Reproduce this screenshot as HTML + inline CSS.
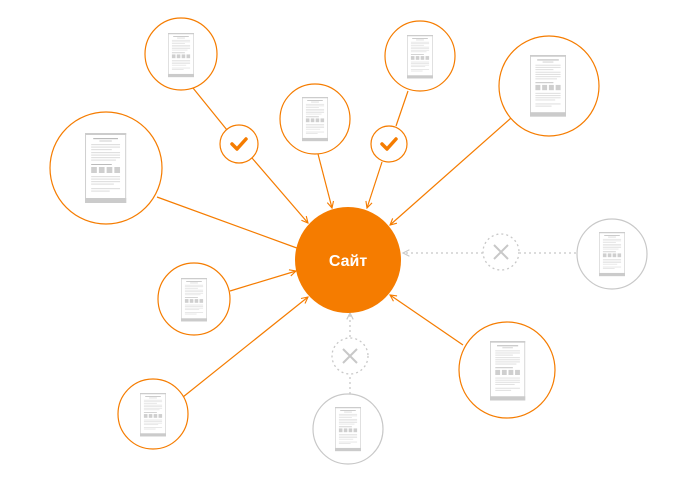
<!DOCTYPE html>
<html><head><meta charset="utf-8"><style>html,body{margin:0;padding:0;background:#fff}svg{display:block}</style></head>
<body>
<svg width="697" height="491" viewBox="0 0 697 491" xmlns="http://www.w3.org/2000/svg">
<defs>
<g id="doc">
<rect x="0.5" y="0.5" width="39" height="69" fill="#fff" stroke="#d0d0d0" stroke-width="1"/>
<rect x="0" y="0" width="40" height="2" fill="#ccc"/>
<rect x="8" y="5" width="24" height="1.2" fill="#bbb"/>
<rect x="14" y="7.5" width="12" height="1" fill="#ccc"/>
<g fill="#e0e0e0">
<rect x="6" y="11" width="28" height="1.2"/><rect x="6" y="13.5" width="28" height="1.2"/><rect x="6" y="16" width="20" height="1.2"/>
<rect x="6" y="19" width="28" height="1.2"/><rect x="6" y="21.5" width="28" height="1.2"/><rect x="6" y="24" width="28" height="1.2"/><rect x="6" y="26.5" width="24" height="1.2"/>
<rect x="6" y="43" width="28" height="1.2"/><rect x="6" y="45.5" width="28" height="1.2"/><rect x="6" y="48" width="28" height="1.2"/><rect x="6" y="50.5" width="22" height="1.2"/>
<rect x="6" y="55" width="28" height="1.2"/><rect x="6" y="57.5" width="18" height="1.2"/>
</g>
<rect x="6" y="31" width="20" height="1" fill="#bbb"/>
<rect x="6" y="34" width="5.5" height="6" fill="#cfcfcf"/>
<rect x="13.5" y="34" width="5.5" height="6" fill="#cfcfcf"/>
<rect x="21" y="34" width="5.5" height="6" fill="#cfcfcf"/>
<rect x="28.5" y="34" width="5.5" height="6" fill="#cfcfcf"/>
<rect x="0" y="65" width="40" height="5" fill="#cbcbcb"/>
</g>
<marker id="ar" viewBox="0 0 10 10" refX="9" refY="5" markerWidth="8" markerHeight="8" orient="auto" markerUnits="userSpaceOnUse">
<path d="M1,1 L9,5 L1,9" fill="none" stroke="#f57c00" stroke-width="1.4"/>
</marker>
<marker id="ag" viewBox="0 0 10 10" refX="9" refY="5" markerWidth="8" markerHeight="8" orient="auto" markerUnits="userSpaceOnUse">
<path d="M1,1 L9,5 L1,9" fill="none" stroke="#c8c8c8" stroke-width="1.4"/>
</marker>
</defs>
<g stroke="#f57c00" stroke-width="1.2" fill="none">
<line x1="193" y1="88" x2="227" y2="130"/>
<line x1="252" y1="158" x2="308" y2="223" marker-end="url(#ar)"/>
<line x1="318" y1="154" x2="332" y2="208" marker-end="url(#ar)"/>
<line x1="408" y1="91" x2="396" y2="126"/>
<line x1="382" y1="162" x2="367" y2="208" marker-end="url(#ar)"/>
<line x1="511" y1="118" x2="390" y2="225" marker-end="url(#ar)"/>
<line x1="157" y1="197" x2="305" y2="251" marker-end="url(#ar)"/>
<line x1="230" y1="291" x2="296" y2="271" marker-end="url(#ar)"/>
<line x1="183" y1="397" x2="308" y2="297" marker-end="url(#ar)"/>
<line x1="463" y1="345" x2="390" y2="295" marker-end="url(#ar)"/>
</g>
<g stroke="#c8c8c8" stroke-width="1.3" fill="none" stroke-dasharray="2,3">
<line x1="576" y1="253" x2="520" y2="253"/>
<line x1="483" y1="253" x2="403" y2="253" marker-end="url(#ag)"/>
<line x1="350" y1="394" x2="350" y2="375"/>
<line x1="350" y1="337" x2="350" y2="313" marker-end="url(#ag)"/>
<circle cx="501" cy="252" r="18"/>
<circle cx="350" cy="356" r="18"/>
</g>
<g stroke="#c8c8c8" stroke-width="2" fill="none">
<path d="M494,245 L508,259 M508,245 L494,259"/>
<path d="M343,349 L357,363 M357,349 L343,363"/>
</g>
<g stroke="#f57c00" stroke-width="1.2" fill="#fff">
<circle cx="181" cy="54" r="36"/>
<circle cx="106" cy="168" r="56"/>
<circle cx="315" cy="119" r="35"/>
<circle cx="420" cy="56" r="35"/>
<circle cx="549" cy="86" r="50"/>
<circle cx="194" cy="299" r="36"/>
<circle cx="153" cy="414" r="35"/>
<circle cx="507" cy="370" r="48"/>
<circle cx="239" cy="144" r="19"/>
<circle cx="389" cy="144" r="18"/>
</g>
<g stroke="#c8c8c8" stroke-width="1.2" fill="#fff">
<circle cx="348" cy="429" r="35"/>
<circle cx="612" cy="254" r="35"/>
</g>
<g stroke="#f57c00" stroke-width="3.5" fill="none" stroke-linecap="round" stroke-linejoin="round">
<path d="M232,144 L237,149 L246,139"/>
<path d="M382,144 L387,149 L396,139"/>
</g>
<circle cx="348" cy="260" r="53" fill="#f57c00"/>
<text x="348" y="266" text-anchor="middle" font-family="Liberation Sans, sans-serif" font-weight="bold" font-size="16" fill="#fff">Сайт</text>
<use href="#doc" transform="translate(168,33) scale(0.65,0.63)"/>
<use href="#doc" transform="translate(85,133) scale(1.03,1)"/>
<use href="#doc" transform="translate(302,97) scale(0.65,0.63)"/>
<use href="#doc" transform="translate(407,35) scale(0.65,0.62)"/>
<use href="#doc" transform="translate(530,55) scale(0.9,0.88)"/>
<use href="#doc" transform="translate(181,278) scale(0.65,0.62)"/>
<use href="#doc" transform="translate(140,393) scale(0.65,0.62)"/>
<use href="#doc" transform="translate(490,341) scale(0.88,0.85)"/>
<use href="#doc" transform="translate(335,407) scale(0.65,0.63)"/>
<use href="#doc" transform="translate(599,232) scale(0.65,0.63)"/>
</svg>
</body></html>
